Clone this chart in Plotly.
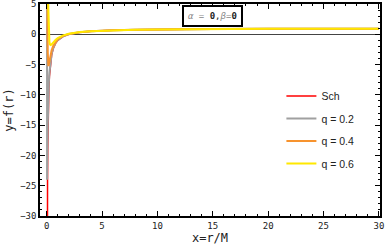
import plotly.graph_objects as go

# r = x/M sample positions and f(r) values
r_vals = [0.01, 0.015, 0.02, 0.03, 0.04, 0.05, 0.06, 0.07, 0.08, 0.1, 0.12, 0.14, 0.16,
          0.2, 0.25, 0.3, 0.36, 0.45, 0.6, 0.8, 1, 1.25, 1.5, 2, 2.5, 3, 4, 5, 6, 8,
          10, 12, 15, 20, 25, 30]

f_sch = [-199, -132.3, -99, -65.7, -49, -39, -32.3, -27.6, -24, -19, -15.7, -13.3, -11.5,
         -9, -7, -5.67, -4.56, -3.44, -2.33, -1.5, -1, -0.6, -0.33, 0, 0.2, 0.33, 0.5, 0.6,
         0.67, 0.75, 0.8, 0.83, 0.87, 0.9, 0.92, 0.93]

f_q02 = [201, 45.5, 1, -21.2, -24, -23, -21.2, -19.4, -17.75, -15, -12.9, -11.2, -9.94,
         -8, -6.36, -5.22, -4.25, -3.25, -2.22, -1.44, -0.96, -0.57, -0.32, 0.01, 0.21,
         0.34, 0.5, 0.6, 0.67, 0.75, 0.8, 0.83, 0.87, 0.9, 0.92, 0.93]

f_q04 = [1401, 579, 301, 112, 51, 25, 12.1, 5.05, 1, -3, -4.56, -5.12, -5.25,
         -5, -4.44, -3.89, -3.32, -2.65, -1.89, -1.25, -0.84, -0.5, -0.26, 0.04, 0.23,
         0.35, 0.51, 0.61, 0.67, 0.75, 0.8, 0.83, 0.87, 0.9, 0.92, 0.93]

f_q06 = [3401, 1468, 801, 334, 176, 105, 67.7, 45.9, 32.25, 17, 9.3, 5.07, 2.56,
         0, -1.24, -1.67, -1.78, -1.67, -1.33, -0.94, -0.64, -0.37, -0.17, 0.09, 0.26,
         0.37, 0.52, 0.61, 0.68, 0.76, 0.8, 0.84, 0.87, 0.9, 0.92, 0.93]

series_names = ["Sch", "q = 0.2", "q = 0.4", "q = 0.6"]
series_vals = [f_sch, f_q02, f_q04, f_q06]
colors = ["#ff0000", "#a0a0a0", "#f7932e", "#ffe800"]
widths = [1.5, 2, 2, 2]

x_ticks = [0, 5, 10, 15, 20, 25, 30]
y_ticks = [5, 0, -5, -10, -15, -20, -25, -30]

mono = "DejaVu Sans Mono"

fig = go.Figure()
for i, (name, vals, c, w) in enumerate(zip(series_names, series_vals, colors, widths)):
    fig.add_trace(go.Scatter(x=r_vals, y=vals, mode="lines", name=name,
                             legendgroup=f"g{i}",
                             line=dict(color=c, width=w)))

axis_common = dict(
    showline=True, linecolor="black", linewidth=1.5, mirror="allticks",
    ticks="inside", ticklen=5, tickwidth=1, tickcolor="black",
    showgrid=False, automargin=False, ticklabeloverflow="allow",
    tickfont=dict(family=mono, size=9, color="#222"),
)

fig.update_xaxes(
    range=[-0.6, 30.1], tickvals=x_ticks, zeroline=False,
    minor=dict(ticks="inside", ticklen=2.5, dtick=1, tickcolor="black", showgrid=False),
    title=dict(text="x=r/M", font=dict(family=mono, size=12, color="#222"), standoff=3),
    **axis_common,
)
fig.update_yaxes(
    range=[-30, 5], tickvals=y_ticks, zeroline=True, zerolinecolor="#444",
    zerolinewidth=1,
    minor=dict(ticks="inside", ticklen=2.5, dtick=1, tickcolor="black", showgrid=False),
    title=dict(text="y=f(r)", font=dict(family=mono, size=12, color="#222"), standoff=4),
    **axis_common,
)

fig.add_annotation(
    xref="paper", yref="paper", x=0.506, y=0.943,
    xanchor="center", yanchor="middle",
    text="<span style='color:#888'><i>α</i> = </span><b>0</b>,<span style='color:#888'><i>β</i>=</span><b>0</b>",
    showarrow=False, font=dict(family=mono, size=9, color="#222"),
    bordercolor="black", borderwidth=2, borderpad=4, bgcolor="white",
)

fig.update_layout(
    width=386, height=252,
    margin=dict(l=40, r=6, t=4, b=36),
    paper_bgcolor="white", plot_bgcolor="white",
    showlegend=True,
    legend=dict(x=0.71, y=0.634, xanchor="left", yanchor="top",
                font=dict(family="Liberation Sans, Arial", size=10.5, color="#222"),
                bgcolor="rgba(0,0,0,0)", borderwidth=0, tracegroupgap=3.5,
                traceorder="grouped", itemwidth=30),
)

fig.write_html("out.html", config={"displayModeBar": False},
               post_script="document.body.style.margin='0';")
